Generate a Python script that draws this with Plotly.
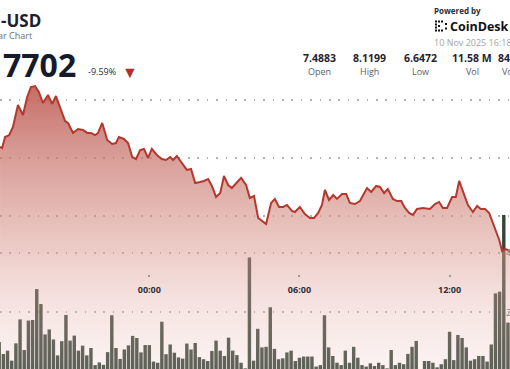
import pandas as pd
import plotly.graph_objects as go

BASE = "2025-11-09 18:00"

# price line: minutes after BASE, price (USD)
price_min = [2, 7, 14, 24, 33, 45, 57, 67, 76, 86,
             95, 105, 117, 127, 136, 146, 158, 165, 177, 189,
             201, 211, 220, 230, 237, 247, 259, 271, 280, 287,
             299, 309, 319, 328, 338, 347, 357, 366, 378, 390,
             400, 410, 417, 426, 438, 450, 460, 470, 482, 491,
             501, 510, 520, 530, 539, 549, 558, 570, 580, 592,
             601, 611, 621, 640, 652, 661, 671, 681, 690, 702,
             709, 721, 733, 745, 755, 765, 774, 781, 791, 801,
             810, 822, 832, 841, 853, 865, 882, 892, 904, 913,
             923, 932, 944, 954, 964, 973, 983, 992, 1002, 1016,
             1033, 1045, 1055, 1064, 1074, 1086, 1095, 1103, 1112, 1124,
             1136, 1146, 1155, 1165, 1175, 1187, 1199, 1206, 1213, 1225]
price_val = [7.595, 7.586, 7.681, 7.698, 7.767, 7.957, 7.871, 8.026, 8.112, 8.120,
             8.069, 7.974, 8.043, 7.966, 8.034, 7.940, 7.819, 7.802, 7.716, 7.750,
             7.741, 7.716, 7.716, 7.698, 7.716, 7.802, 7.655, 7.621, 7.629, 7.681,
             7.664, 7.629, 7.509, 7.491, 7.569, 7.578, 7.500, 7.578, 7.526, 7.491,
             7.483, 7.509, 7.483, 7.517, 7.457, 7.397, 7.405, 7.284, 7.293, 7.302,
             7.319, 7.259, 7.164, 7.198, 7.345, 7.267, 7.241, 7.293, 7.328, 7.267,
             7.155, 7.172, 6.983, 6.931, 7.112, 7.147, 7.078, 7.078, 7.095, 7.043,
             7.034, 7.078, 7.017, 6.983, 6.983, 7.026, 7.095, 7.224, 7.138, 7.181,
             7.147, 7.190, 7.190, 7.112, 7.103, 7.129, 7.241, 7.207, 7.259, 7.250,
             7.198, 7.233, 7.147, 7.129, 7.129, 7.069, 7.026, 7.009, 7.060, 7.069,
             7.060, 7.103, 7.121, 7.069, 7.069, 7.164, 7.164, 7.302, 7.207, 7.095,
             7.034, 7.086, 7.060, 7.060, 7.026, 6.905, 6.793, 6.698, 6.716, 6.698]

# 10-minute volume bars (thousands), starting at BASE
volume_k = [98, 57.6, 68.9, 35, 93.8, 175, 71, 171, 173, 278,
            227, 124, 141, 107, 53, 101, 190, 103, 120, 69,
            86, 53, 78, 20, 29, 21, 64, 189, 78, 41,
            73, 87, 119, 112, 63, 88, 88, 32, 28, 167,
            57, 90, 62, 46, 42, 93, 73, 95, 47, 40,
            34, 68, 103, 69, 51, 113, 69, 54, 28, 9,
            385, 35, 143, 80, 82, 216, 75, 40, 43, 63,
            69, 34, 45, 49, 49, 49, 15, 20, 189, 80,
            51, 28, 20, 69, 28, 82, 45, 20, 15, 26,
            17, 28, 20, 9, 71, 20, 28, 23, 58, 82,
            102, 3, 34, 34, 28, 12.5, 23, 40, 133, 37,
            122, 112, 80, 35, 40, 51, 51, 32, 90, 263,
            269, 529, 164]

x_tick_min = [0, 360, 720, 1080]
x_tick_text = ["18:00", "00:00", "06:00", "12:00"]
price_grid = [7.0, 7.5, 8.0]
vol_grid = [200, 400]
vol_grid_text = ["200K", "400K"]

stat_values = ["7.4883", "8.1199", "6.6472", "11.58 M", "84.06 M"]
stat_labels = ["Open", "High", "Low", "Vol", "Vol USD"]

W, H = 510, 369
FONT = "Open Sans"


def px(x):
    return x / W


def py(y):
    return 1 - y / H


base = pd.Timestamp(BASE)
price_t = base + pd.to_timedelta(price_min, unit="min")
vol_t = pd.date_range(start=base, periods=len(volume_k), freq="10min")
tick_t = base + pd.to_timedelta(x_tick_min, unit="min")

fig = go.Figure()

fig.add_trace(go.Bar(
    x=vol_t, y=volume_k, marker=dict(color="#374539", line=dict(width=0)),
    yaxis="y", xaxis="x", hoverinfo="skip", showlegend=False,
))

fig.add_trace(go.Scatter(
    x=price_t, y=price_val, mode="lines", yaxis="y2", xaxis="x",
    line=dict(color="#b5382e", width=2),
    fill="tozeroy",
    fillgradient=dict(
        type="vertical", start=5.68, stop=8.12,
        colorscale=[
            [0.0, "rgba(236,200,195,0.22)"],
            [0.25, "rgba(226,172,165,0.36)"],
            [0.42, "rgba(218,152,143,0.5)"],
            [0.6, "rgba(208,133,124,0.62)"],
            [0.78, "rgba(198,112,104,0.72)"],
            [1.0, "rgba(186,82,73,0.85)"],
        ],
    ),
    hoverinfo="skip", showlegend=False,
))

grid_style = dict(showgrid=True, gridcolor="#b4b4b4", gridwidth=1.6,
                  griddash="1.6px,7.8px", zeroline=False, showline=False,
                  showticklabels=False, ticks="")

x0 = base + pd.Timedelta(minutes=1.9)
x1 = base + pd.Timedelta(minutes=1224.9)

fig.update_layout(
    width=W, height=H, margin=dict(l=0, r=0, t=0, b=0),
    paper_bgcolor="white", plot_bgcolor="white",
    font=dict(family=FONT),
    bargap=0.18, hovermode=False,
    xaxis=dict(
        range=[x0, x1], anchor="free", position=py(274),
        tickvals=tick_t, ticktext=x_tick_text,
        ticks="outside", ticklen=2, tickwidth=2, tickcolor="#9a9a9a",
        ticklabelstandoff=5,
        showgrid=False, zeroline=False, showline=False,
        tickfont=dict(size=9, color="#2b303b", family=FONT, weight="bold"),
    ),
    yaxis=dict(range=[6.78, 1257.6], tickvals=vol_grid, **grid_style),
    yaxis2=dict(range=[5.681, 8.862], tickvals=price_grid, overlaying="y",
                side="right", **grid_style),
)

ann = []


def add(text, x, y, size, color, bold=False, xanchor="left"):
    ann.append(dict(text=text, x=px(x), y=py(y), xref="paper", yref="paper",
                    xanchor=xanchor, yanchor="middle", showarrow=False,
                    borderpad=0,
                    font=dict(family=FONT, size=size, color=color,
                              weight="bold" if bold else "normal")))


# header (left)
add("-USD", 0, 21, 17, "#1b2130", bold=True)
add("ar Chart", -3, 35.5, 9, "#6b6f76")
add("7702", 2, 65, 32, "#151b2b", bold=True)
add("-9.59%", 87, 72, 9, "#2a2e36")
add("▼", 121, 72, 16, "#b3302a")

# header (right)
add("Powered by", 433, 10, 8, "#2a2e36", bold=True)
add("CoinDesk", 449, 27, 12.5, "#111111", bold=True)
add("10 Nov 2025 16:18", 433, 43, 9, "#a3a3a3")

centers = [319, 369, 420, 472, 518]
for v, l, c in zip(stat_values, stat_labels, centers):
    add(v, c, 58, 10.5, "#1f2430", bold=True, xanchor="center")
    add(l, c, 72, 9, "#5c6068", xanchor="center")

# volume axis labels (cut at the right edge)
for v, t in zip(vol_grid, vol_grid_text):
    y = 371 - v / 200 * 59
    add(t, 505, y, 9, "#8a8a8a")

fig.update_layout(annotations=ann)

# CoinDesk mark built from small squares
sq = [(435, 20.5), (438, 20.5), (441, 20.5),
      (435, 23.5), (435, 26.5), (438, 25),
      (435, 29.5), (438, 29.5), (441, 29.5),
      (445, 23), (445, 27.5)]
shapes = []
for sx, sy in sq:
    shapes.append(dict(type="rect", xref="paper", yref="paper",
                       x0=px(sx), x1=px(sx + 2), y0=py(sy + 2), y1=py(sy),
                       fillcolor="#111111", line=dict(width=0)))
fig.update_layout(shapes=shapes)

fig.write_html("out.html",
               config={"displayModeBar": False, "staticPlot": True},
               post_script="document.body.style.margin='0';"
                           "document.body.style.overflow='hidden';")
